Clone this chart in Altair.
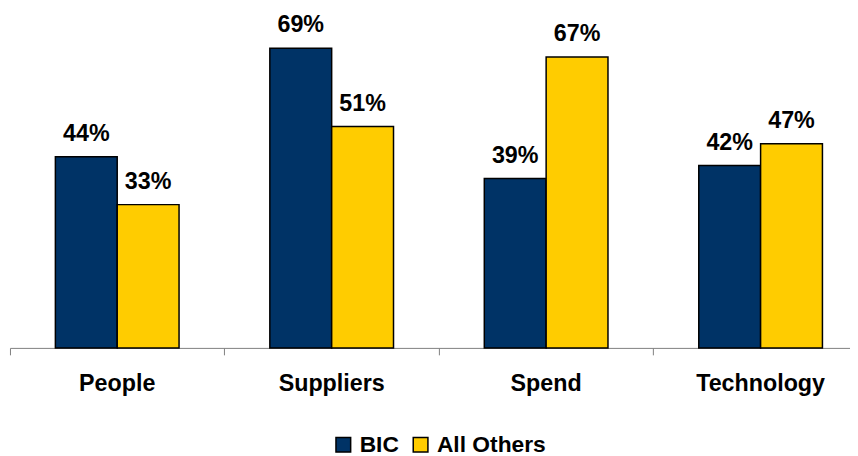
import altair as alt
import pandas as pd

categories = ["People", "Suppliers", "Spend", "Technology"]
series = ["BIC", "All Others"]
bic_values = [44, 69, 39, 42]
others_values = [33, 51, 67, 47]
colors = ["#003366", "#FFCC00"]

rows = []
for i, c in enumerate(categories):
    rows.append({"category": c, "series": "BIC", "value": bic_values[i], "label": f"{bic_values[i]}%"})
    rows.append({"category": c, "series": "All Others", "value": others_values[i], "label": f"{others_values[i]}%"})
df = pd.DataFrame(rows)

FONT = "Liberation Sans"

x_enc = alt.X(
    "category:N",
    sort=categories,
    scale=alt.Scale(paddingInner=0, paddingOuter=0, range=[0, 866]),
    axis=alt.Axis(
        title=None,
        bandPosition=0,
        labelAngle=0,
        labelFont=FONT,
        labelFontSize=23.5,
        labelFontWeight="bold",
        labelColor="black",
        labelBaseline="alphabetic",
        labelPadding=36,
        tickSize=7,
        tickColor="#808080",
        domainColor="#808080",
        domainWidth=1,
        tickWidth=1,
        grid=False,
    ),
)
xo_enc = alt.XOffset(
    "series:N",
    sort=series,
    scale=alt.Scale(paddingInner=0, paddingOuter=0.734),
)
y_enc = alt.Y("value:Q", scale=alt.Scale(domain=[0, 77.8], nice=False), axis=None)

bars = alt.Chart(df).mark_bar(stroke="black", strokeWidth=1.5).encode(
    x=x_enc,
    xOffset=xo_enc,
    y=y_enc,
    color=alt.Color(
        "series:N",
        sort=series,
        scale=alt.Scale(domain=series, range=colors),
        legend=alt.Legend(
            title=None,
            orient="none",
            direction="horizontal",
            legendX=325,
            legendY=427,
            symbolType="square",
            symbolSize=220,
            symbolStrokeColor="black",
            symbolStrokeWidth=1.5,
            symbolOpacity=1,
            labelFont=FONT,
            labelFontSize=23,
            labelFontWeight="bold",
            labelColor="black",
            labelOffset=5,
            columnPadding=10,
        ),
    ),
)

labels = alt.Chart(df).mark_text(
    font=FONT, fontSize=23.5, fontWeight="bold", color="black",
    baseline="alphabetic", dy=-16,
).encode(
    x=alt.X("category:N", sort=categories),
    xOffset=alt.XOffset("series:N", sort=series),
    y=alt.Y("value:Q"),
    text="label:N",
)

chart = alt.layer(bars, labels).properties(
    width=848,
    height=341,
    padding={"left": 2, "top": 0, "right": 0, "bottom": 107},
    autosize=alt.AutoSizeParams(type="none"),
).configure_view(stroke=None)

chart.save("out.html", embed_options={"renderer": "svg", "actions": False})
